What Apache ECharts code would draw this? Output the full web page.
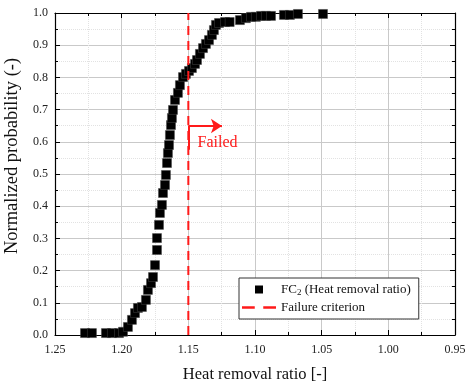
<!DOCTYPE html>
<html><head><meta charset="utf-8">
<script src="https://cdn.jsdelivr.net/npm/echarts@6/dist/echarts.min.js"></script>
<style>html,body{margin:0;padding:0;background:#fff}#c{width:468px;height:385px}</style>
</head><body><div id="c"></div>
<script>
const xTicks = [1.25, 1.20, 1.15, 1.10, 1.05, 1.00, 0.95];
const yTicks = [0.0,0.1,0.2,0.3,0.4,0.5,0.6,0.7,0.8,0.9,1.0];
const ratioX = [1.2275,1.2223,1.2118,1.2073,1.202,1.199,1.1953,1.1923,1.19,1.1878,1.1848,1.1818,1.1803,1.178,1.1765,1.175,1.1735,1.1735,1.172,1.1713,1.1698,1.169,1.1675,1.1668,1.166,1.1653,1.1645,1.1638,1.163,1.1623,1.1615,1.16,1.1578,1.1563,1.154,1.1518,1.1495,1.1473,1.145,1.1435,1.1413,1.139,1.1368,1.1345,1.1323,1.1308,1.1293,1.127,1.1225,1.119,1.1113,1.1068,1.103,1.0993,1.0955,1.0918,1.088,1.0783,1.0738,1.0678,1.049];
const probY = [0.006,0.006,0.006,0.006,0.006,0.01,0.025,0.047,0.068,0.084,0.087,0.109,0.14,0.161,0.18,0.217,0.264,0.301,0.342,0.379,0.404,0.441,0.466,0.497,0.534,0.565,0.59,0.621,0.652,0.674,0.699,0.73,0.752,0.776,0.801,0.811,0.82,0.829,0.842,0.854,0.873,0.891,0.904,0.916,0.932,0.947,0.963,0.969,0.972,0.972,0.978,0.984,0.988,0.988,0.991,0.991,0.991,0.994,0.994,0.997,0.997];
const criterionX = [1.15, 1.15];
const criterionY = [0, 1];
const arrowFrom = [1.15, 0.649];
const arrowTo = [1.1248, 0.649];
const arrowStemEnd = [1.15, 0.575];
const failedLabelPos = [1.1281, 0.596];

const seriesName = 'FC2 (Heat removal ratio)';
const critName = 'Failure criterion';
const font = '"Liberation Serif", "Times New Roman", serif';
const red = '#ff1a1a';

const chart = echarts.init(document.getElementById('c'), null, {renderer:'canvas'});
const gridCol = '#c9c9c9';
const minorCol = '#e2e2e2';
function xAxisBase(show){
  return {
    type:'value', inverse:true, min:0.95, max:1.25, interval:0.05,
    axisLine:{show:true, onZero:false, lineStyle:{color:'#000', width:1.2}},
    axisTick:{show:true, inside:true, length:5, lineStyle:{color:'#000'}},
    minorTick:{show:true, splitNumber:2, length:3, lineStyle:{color:'#000'}},
    splitLine:{show:show, lineStyle:{color:gridCol, width:1}},
    minorSplitLine:{show:show, lineStyle:{color:minorCol, type:'dotted'}},
  };
}
function yAxisBase(show){
  return {
    type:'value', min:0, max:1, interval:0.1,
    axisLine:{show:true, onZero:false, lineStyle:{color:'#000', width:1.2}},
    axisTick:{show:true, inside:true, length:5, lineStyle:{color:'#000'}},
    minorTick:{show:true, splitNumber:2, length:3, lineStyle:{color:'#000'}},
    splitLine:{show:show, lineStyle:{color:gridCol, width:1}},
    minorSplitLine:{show:show, lineStyle:{color:minorCol, type:'dotted'}},
  };
}
const xMain = Object.assign(xAxisBase(true), {
  position:'bottom',
  name:'Heat removal ratio [-]', nameLocation:'middle', nameGap:31,
  nameTextStyle:{fontFamily:font, fontSize:16.5, color:'#111'},
  axisLabel:{fontFamily:font, fontSize:12, color:'#222', margin:9, formatter:v=>v.toFixed(2)}
});
const xTop = Object.assign(xAxisBase(false), {position:'top', axisLabel:{show:false}});
const yMain = Object.assign(yAxisBase(true), {
  position:'left',
  name:'Normalized probability (-)', nameLocation:'middle', nameGap:27,
  nameTextStyle:{fontFamily:font, fontSize:18.5, color:'#111', padding:[0,0,0,36]},
  axisLabel:{fontFamily:font, fontSize:12, color:'#222', margin:7, formatter:v=>v.toFixed(1)}
});
const yRight = Object.assign(yAxisBase(false), {position:'right', axisLabel:{show:false}});

chart.setOption({
  backgroundColor:'#fff',
  animation:false,
  grid:{left:55, right:13, top:13, bottom:50, containLabel:false, outerBoundsMode:'none'},
  xAxis:[xMain, xTop],
  yAxis:[yMain, yRight],
  legend:{
    left:239, top:278, orient:'vertical', itemGap:4,
    backgroundColor:'#fff', borderColor:'#333', borderWidth:1,
    padding:[5,8,5,3], itemWidth:34, itemHeight:8, symbolKeepAspect:true,
    data:[
      {name:seriesName, icon:'path://M0,0h8v8h-8z', itemStyle:{color:'#000', borderWidth:0, opacity:1}},
      {name:critName, icon:'path://M0,0h12v2.4h-12z M20,0h12v2.4h-12z', itemStyle:{color:red, borderWidth:0}, lineStyle:{opacity:0, width:0}}
    ],
    textStyle:{fontFamily:font, fontSize:13, color:'#111',
      rich:{a:{fontFamily:font, fontSize:13, color:'#111'}, s:{fontFamily:font, fontSize:9, color:'#111', verticalAlign:'bottom', padding:[6,0,0,0]}}},
    formatter:function(n){
      if(n===seriesName) return '{a|FC}{s|2}{a| (Heat removal ratio)}';
      return '{a|'+n+'}';
    }
  },
  series:[
    {
      name:seriesName, type:'scatter', symbol:'rect', symbolSize:9,
      itemStyle:{color:'#000', borderColor:'#444', borderWidth:0.5, opacity:1},
      data: ratioX.map((x,i)=>[x, probY[i]]), z:3
    },
    {
      name:critName, type:'line', symbol:'none', z:4,
      lineStyle:{color:red, width:2, type:[9,6]},
      itemStyle:{color:red},
      data: criterionX.map((x,i)=>[x, criterionY[i]]),
      markLine:{
        silent:true, symbol:['none','arrow'], symbolSize:10,
        lineStyle:{color:red, width:2, type:'solid'},
        label:{show:false},
        data:[
          [{coord:arrowFrom, symbol:'none'},{coord:arrowTo, symbol:'arrow', symbolSize:11}],
          [{coord:arrowFrom, symbol:'none'},{coord:arrowStemEnd, symbol:'none'}]
        ]
      },
      markPoint:{
        silent:true, symbol:'circle', symbolSize:0,
        label:{show:true, formatter:'Failed', color:red, fontFamily:font, fontSize:16, position:'inside'},
        data:[{coord:failedLabelPos}]
      }
    }
  ]
});
</script></body></html>
